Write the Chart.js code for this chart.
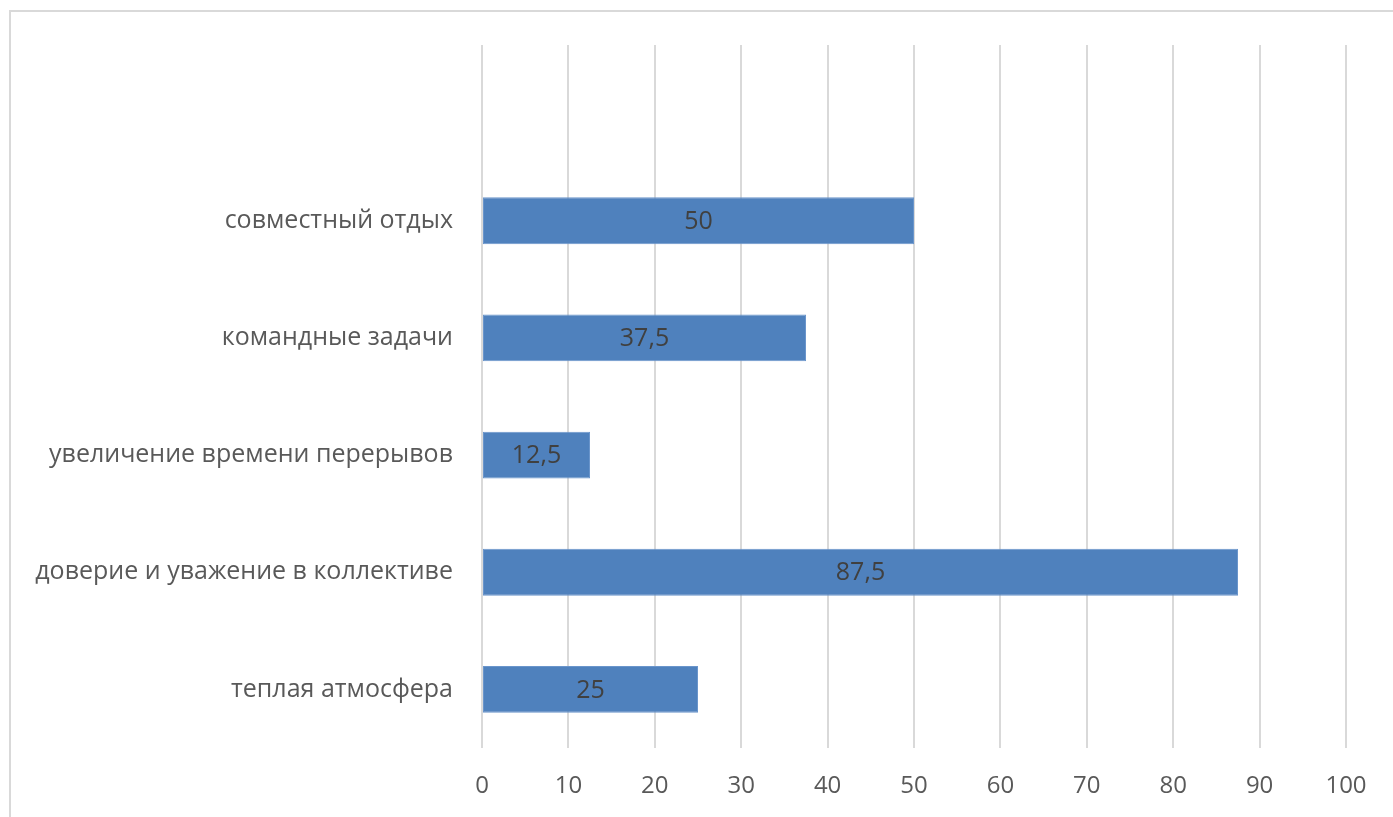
<!DOCTYPE html>
<html lang="ru">
<head>
<meta charset="utf-8">
<title>Факторы благоприятного климата</title>
<script src="https://cdn.jsdelivr.net/npm/chart.js@4/dist/chart.umd.min.js"></script>
<style>
  html, body { margin: 0; padding: 0; background: #ffffff; overflow: hidden; }
  #wrap { position: relative; width: 1393px; height: 817px; }
</style>
</head>
<body>
<div id="wrap"><canvas id="chart" width="1393" height="817"></canvas></div>
<script>
// Categories listed top to bottom; the first slot is an empty row above the bars.
const categories = [
  "",
  "совместный отдых",
  "командные задачи",
  "увеличение времени перерывов",
  "доверие и уважение в коллективе",
  "теплая атмосфера"
];
const values = [null, 50, 37.5, 12.5, 87.5, 25];
const axisMin = 0;
const axisMax = 100;
const axisStep = 10;

const FONT = "'Open Sans', 'Noto Sans', sans-serif";

// Light frame around the chart object
const framePlugin = {
  id: 'frame',
  beforeDraw(chart) {
    const ctx = chart.ctx;
    ctx.save();
    ctx.fillStyle = '#ffffff';
    ctx.fillRect(0, 0, chart.width, chart.height);
    ctx.strokeStyle = '#d9d9d9';
    ctx.lineWidth = 2;
    ctx.strokeRect(10, 11, chart.width + 20, chart.height + 20);
    ctx.restore();
  }
};

// Value labels centred inside each bar, decimal comma
const valueLabels = {
  id: 'valueLabels',
  afterDatasetsDraw(chart) {
    const ctx = chart.ctx;
    const meta = chart.getDatasetMeta(0);
    ctx.save();
    ctx.font = "25px " + FONT;
    ctx.fillStyle = '#404040';
    ctx.textAlign = 'center';
    ctx.textBaseline = 'middle';
    meta.data.forEach((bar, i) => {
      const v = values[i];
      if (v === null || v === undefined) return;
      const cx = (bar.x + bar.base) / 2;
      ctx.fillText(String(v).replace('.', ','), cx, bar.y + 1);
    });
    ctx.restore();
  }
};

new Chart(document.getElementById('chart'), {
  type: 'bar',
  data: {
    labels: categories,
    datasets: [{
      data: values,
      backgroundColor: '#4f81bd',
      borderColor: '#6a95cb',
      borderWidth: 1,
      borderSkipped: false,
      barPercentage: 0.4,
      categoryPercentage: 1.0
    }]
  },
  options: {
    indexAxis: 'y',
    responsive: false,
    animation: false,
    devicePixelRatio: 1,
    layout: { padding: { top: 45, right: 47, left: 0, bottom: 0 } },
    plugins: {
      legend: { display: false },
      tooltip: { enabled: false },
      title: { display: false }
    },
    scales: {
      x: {
        type: 'linear',
        min: axisMin,
        max: axisMax,
        ticks: {
          stepSize: axisStep,
          color: '#595959',
          font: { family: FONT, size: 24 },
          padding: 24
        },
        grid: { color: '#d9d9d9', lineWidth: 2, drawTicks: false },
        border: { display: false },
        afterFit(scale) { scale.height = 69; }
      },
      y: {
        type: 'category',
        ticks: {
          color: '#595959',
          font: { family: FONT, size: 25 },
          padding: 29
        },
        grid: { display: false, drawTicks: false },
        border: { display: false },
        afterFit(scale) { scale.width = 482; }
      }
    }
  },
  plugins: [framePlugin, valueLabels]
});
</script>
</body>
</html>
